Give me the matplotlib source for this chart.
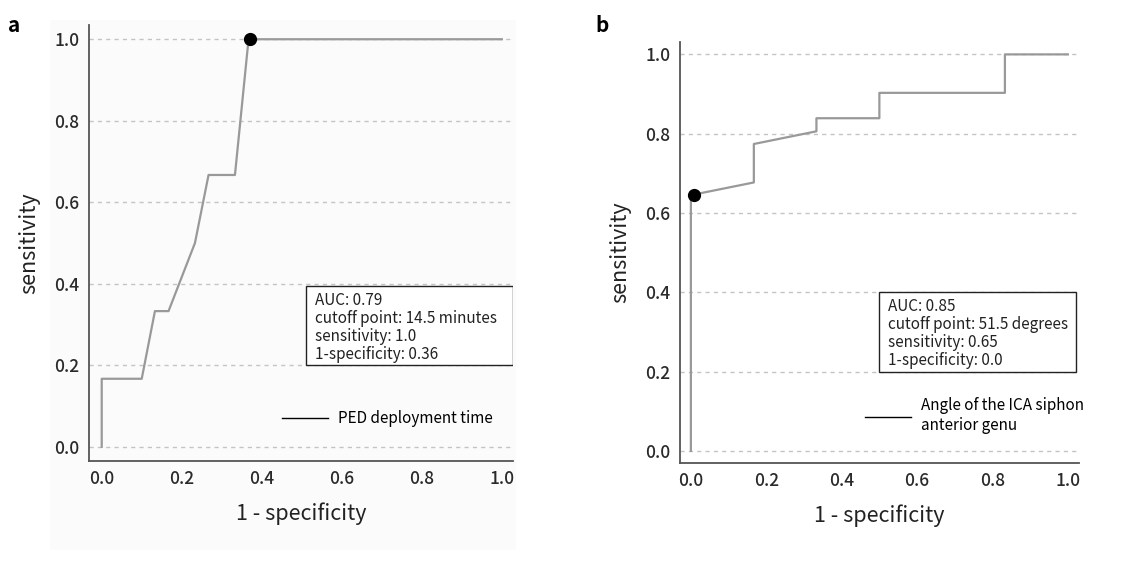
import matplotlib
matplotlib.use("Agg")
import matplotlib.pyplot as plt
from matplotlib.lines import Line2D
from matplotlib.patches import Rectangle

plt.rcParams['font.family'] = ['Noto Sans CJK JP', 'DejaVu Sans']

# ROC curve a: PED deployment time
fpr_a = [0.0, 0.0, 0.1, 0.133, 0.167, 0.233, 0.267, 0.333, 0.367, 1.0]
tpr_a = [0.0, 0.167, 0.167, 0.333, 0.333, 0.5, 0.667, 0.667, 1.0, 1.0]
cut_a = (0.37, 1.0)
info_a = "AUC: 0.79\ncutoff point: 14.5 minutes\nsensitivity: 1.0\n1-specificity: 0.36"
label_a = "PED deployment time"

# ROC curve b: angle of ICA siphon anterior genu
fpr_b = [0.0, 0.0, 0.167, 0.167, 0.333, 0.333, 0.5, 0.5, 0.833, 0.833, 1.0]
tpr_b = [0.0, 0.645, 0.677, 0.774, 0.806, 0.839, 0.839, 0.903, 0.903, 1.0, 1.0]
cut_b = (0.007, 0.645)
info_b = "AUC: 0.85\ncutoff point: 51.5 degrees\nsensitivity: 0.65\n1-specificity: 0.0"
label_b = "Angle of the ICA siphon\nanterior genu"

ticks = [0.0, 0.2, 0.4, 0.6, 0.8, 1.0]

fig = plt.figure(figsize=(11.32, 5.85), dpi=100)
# faint grey backdrop behind panel a
fig.patches.append(Rectangle((0.044, 0.06), 0.412, 0.905, transform=fig.transFigure,
                             facecolor="#fbfbfb", edgecolor="none", zorder=-10))

ax_a = fig.add_axes([0.0789, 0.2125, 0.3743, 0.7448])
ax_b = fig.add_axes([0.601, 0.209, 0.352, 0.7197])


def style(ax, xlim, ylim):
    ax.set_facecolor("none")
    ax.set_xlim(*xlim)
    ax.set_ylim(*ylim)
    ax.set_xticks(ticks)
    ax.set_yticks(ticks)
    ax.set_xticklabels([f"{t:.1f}" for t in ticks], fontweight=500)
    ax.set_yticklabels([f"{t:.1f}" for t in ticks], fontweight=500)
    ax.tick_params(length=0, labelsize=12.5, labelcolor="#2a2a2a", pad=7)
    for s in ["top", "right"]:
        ax.spines[s].set_visible(False)
    for s in ["left", "bottom"]:
        ax.spines[s].set_color("#555555")
        ax.spines[s].set_linewidth(1.3)
    for t in ticks:
        ax.axhline(t, color="#c4c4c4", lw=1.0, ls=(0, (3, 3)), zorder=0)
    ax.set_xlabel("1 - specificity", fontsize=15.5, color="#222222", labelpad=10)
    ax.set_ylabel("sensitivity", fontsize=15.5, color="#222222", labelpad=10)


style(ax_a, (-0.031, 1.028), (-0.034, 1.035))
style(ax_b, (-0.028, 1.029), (-0.03, 1.032))

for ax, fx, ty, cut in [(ax_a, fpr_a, tpr_a, cut_a), (ax_b, fpr_b, tpr_b, cut_b)]:
    ax.plot(fx, ty, color="#999999", lw=1.6, zorder=3)
    ax.plot([cut[0]], [cut[1]], "o", color="black", ms=8.5, zorder=4)

# info boxes
for ax, txt, box in [(ax_a, info_a, (0.511, 0.219, 0.489, 0.183)),
                     (ax_b, info_b, (0.498, 0.216, 0.495, 0.189))]:
    ax.add_patch(Rectangle((box[0], box[1]), box[2], box[3], transform=ax.transAxes,
                           facecolor="white", edgecolor="#222222", lw=1.0, zorder=5))
    ax.text(box[0] + 0.022, box[1] + box[3] - 0.014, txt, transform=ax.transAxes,
            ha="left", va="top", fontsize=11, color="#222222", linespacing=1.08, zorder=6)

# legends
h = Line2D([], [], color="black", lw=1.0)
ax_a.legend([h], [label_a], loc="center left", bbox_to_anchor=(0.455, 0.096),
            frameon=False, fontsize=11, handlelength=3.0, handletextpad=0.65,
            borderaxespad=0, borderpad=0)
ax_b.legend([h], [label_b], loc="center left", bbox_to_anchor=(0.463, 0.112),
            frameon=False, fontsize=11, handlelength=3.0, handletextpad=0.65,
            borderaxespad=0, borderpad=0)

fig.text(0.007, 0.975, "a", fontsize=15, fontweight="bold", va="top", ha="left")
fig.text(0.526, 0.975, "b", fontsize=15, fontweight="bold", va="top", ha="left")

fig.savefig("out.png", dpi=100)
